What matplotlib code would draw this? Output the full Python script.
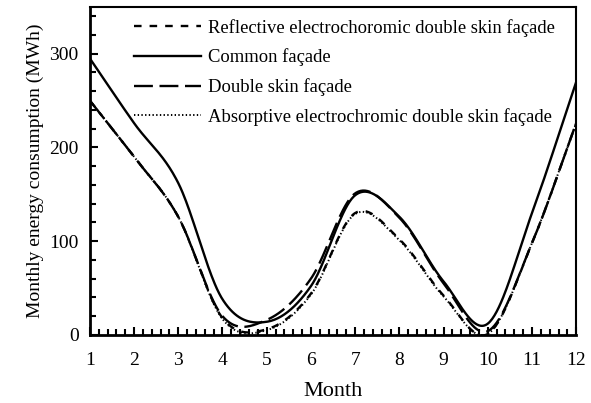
import numpy as np
import matplotlib
matplotlib.use("Agg")
import matplotlib.pyplot as plt
from matplotlib.ticker import MultipleLocator

plt.rcParams['font.family'] = ['Liberation Serif', 'DejaVu Serif']

months = [1, 2, 3, 4, 5, 6, 7, 8, 9, 10, 11, 12]
common = [295, 226, 162, 38, 14, 52, 149, 126, 57, 12, 130, 270]
double_skin = [250, 190, 126, 20, 16, 60, 151, 125, 55, 4, 98, 226]
reflective = [250, 190, 126, 18, 6, 44, 130, 102, 42, 1, 98, 226]
absorptive = [250, 190, 126, 17, 5, 43, 129, 101, 41, 1, 98, 226]


# smooth line like a spreadsheet "smoothed line" (Catmull-Rom through the points)
def smooth(x, y, n=40):
    x = np.asarray(x, float)
    y = np.asarray(y, float)
    px = np.concatenate([[2 * x[0] - x[1]], x, [2 * x[-1] - x[-2]]])
    py = np.concatenate([[2 * y[0] - y[1]], y, [2 * y[-1] - y[-2]]])
    xs, ys = [], []
    t = np.linspace(0, 1, n, endpoint=False)
    for i in range(1, len(px) - 2):
        for arr, out in ((px, xs), (py, ys)):
            p0, p1, p2, p3 = arr[i - 1], arr[i], arr[i + 1], arr[i + 2]
            out.extend(0.5 * (2 * p1 + (-p0 + p2) * t
                              + (2 * p0 - 5 * p1 + 4 * p2 - p3) * t ** 2
                              + (-p0 + 3 * p1 - 3 * p2 + p3) * t ** 3))
    xs.append(x[-1])
    ys.append(y[-1])
    return np.array(xs), np.array(ys)


fig = plt.figure(figsize=(5.91, 4.03), dpi=100)
ax = fig.add_axes([0.152, 0.169, 0.823, 0.814])

sx, sy = smooth(months, reflective)
ax.plot(sx, sy, color='black', lw=1.7, dashes=(3.2, 3.4),
        label='Reflective electrochoromic double skin façade')
sx, sy = smooth(months, common)
ax.plot(sx, sy, color='black', lw=1.7, label='Common façade')
sx, sy = smooth(months, double_skin)
ax.plot(sx, sy, color='black', lw=1.7, dashes=(8, 2.8),
        label='Double skin façade')
sx, sy = smooth(months, absorptive)
ax.plot(sx, sy, color='black', lw=1.4, dashes=(0.7, 1.2),
        label='Absorptive electrochromic double skin façade')

ax.set_xlim(1, 12)
ax.set_ylim(0, 350)
ax.set_xticks(months)
ax.set_yticks([0, 100, 200, 300])
ax.xaxis.set_minor_locator(MultipleLocator(0.2))
ax.yaxis.set_minor_locator(MultipleLocator(20))
ax.tick_params(which='both', direction='in', width=1.5, labelsize=14)
ax.tick_params(which='major', length=6)
ax.tick_params(axis='x', which='major', pad=12)
ax.tick_params(axis='y', which='major', pad=8)
ax.tick_params(which='minor', length=4)
for s in ax.spines.values():
    s.set_linewidth(1.5)
ax.spines['left'].set_linewidth(2)
ax.spines['bottom'].set_linewidth(2)

ax.set_xlabel('Month', fontsize=16, labelpad=10)
ax.set_ylabel('Monthly energy consumption (MWh)', fontsize=14)

ax.legend(loc='upper left', bbox_to_anchor=(0.056, 1.015), frameon=False,
          fontsize=13.4, handlelength=3.6, handletextpad=0.4,
          labelspacing=0.64)

fig.savefig('out.png', dpi=100)
